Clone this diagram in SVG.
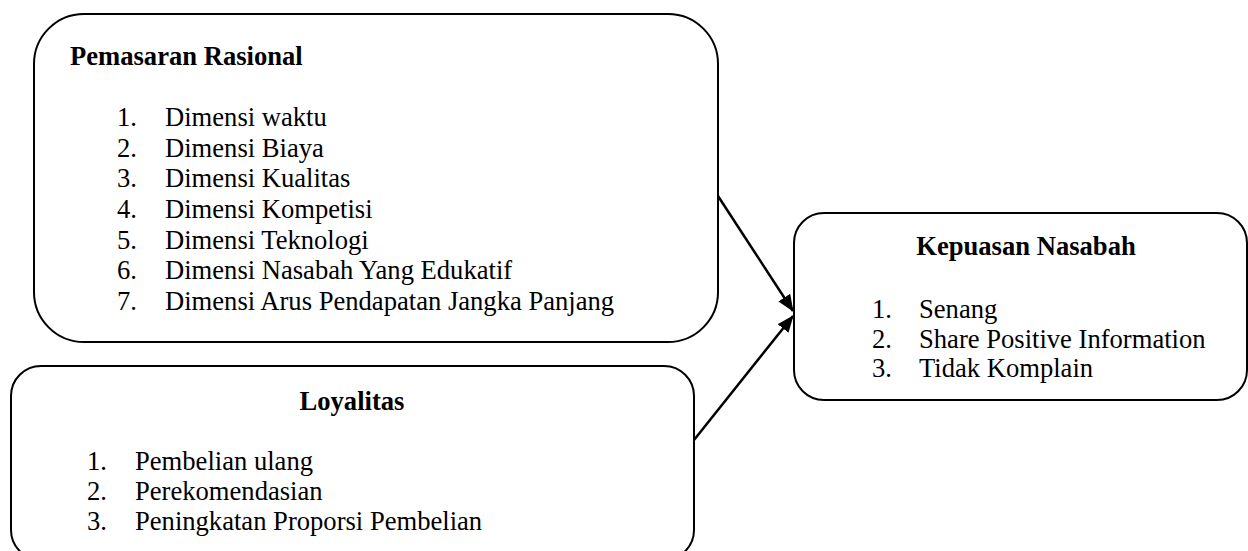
<svg xmlns="http://www.w3.org/2000/svg" width="1248" height="551" viewBox="0 0 1248 551">
<style>
.box{fill:#fff;stroke:#000;stroke-width:2}
.t{font-family:"Liberation Serif","Times New Roman",serif;font-size:26.6px;fill:#000}
.b{font-weight:bold}
.c{stroke:#000;stroke-width:2.5;fill:none}
</style>
<defs>
<marker id="ah" markerWidth="17" markerHeight="14" refX="16" refY="7" orient="auto" markerUnits="userSpaceOnUse">
<path d="M0,0 L17,7 L0,14 z" fill="#000"/>
</marker>
</defs>
<rect width="1248" height="551" fill="#fff"/>
<g id="pemasaran">
<rect class="box" x="34" y="14" width="684" height="328" rx="50" ry="50"/>
<text class="t b" x="70" y="65">Pemasaran Rasional</text>
<g class="t">
<text x="117" y="126">1.</text><text x="165" y="126">Dimensi waktu</text>
<text x="117" y="157">2.</text><text x="165" y="157">Dimensi Biaya</text>
<text x="117" y="187">3.</text><text x="165" y="187">Dimensi Kualitas</text>
<text x="117" y="218">4.</text><text x="165" y="218">Dimensi Kompetisi</text>
<text x="117" y="249">5.</text><text x="165" y="249">Dimensi Teknologi</text>
<text x="117" y="279">6.</text><text x="165" y="279">Dimensi Nasabah Yang Edukatif</text>
<text x="117" y="310">7.</text><text x="165" y="310">Dimensi Arus Pendapatan Jangka Panjang</text>
</g>
</g>
<g id="loyalitas">
<rect class="box" x="11" y="366" width="683" height="194" rx="30" ry="30"/>
<text class="t b" x="352" y="410" text-anchor="middle">Loyalitas</text>
<g class="t">
<text x="87" y="470">1.</text><text x="135" y="470">Pembelian ulang</text>
<text x="87" y="500">2.</text><text x="135" y="500">Perekomendasian</text>
<text x="87" y="530">3.</text><text x="135" y="530">Peningkatan Proporsi Pembelian</text>
</g>
</g>
<g id="kepuasan">
<rect class="box" x="794" y="213" width="453" height="187" rx="30" ry="30"/>
<text class="t b" x="1026" y="255" text-anchor="middle">Kepuasan Nasabah</text>
<g class="t">
<text x="872" y="318">1.</text><text x="919" y="318">Senang</text>
<text x="872" y="348">2.</text><text x="919" y="348">Share Positive Information</text>
<text x="872" y="377">3.</text><text x="919" y="377">Tidak Komplain</text>
</g>
</g>
<g id="connectors">
<line class="c" x1="718" y1="196" x2="793" y2="311" marker-end="url(#ah)"/>
<line class="c" x1="694" y1="440" x2="793" y2="316" marker-end="url(#ah)"/>
</g>
</svg>
